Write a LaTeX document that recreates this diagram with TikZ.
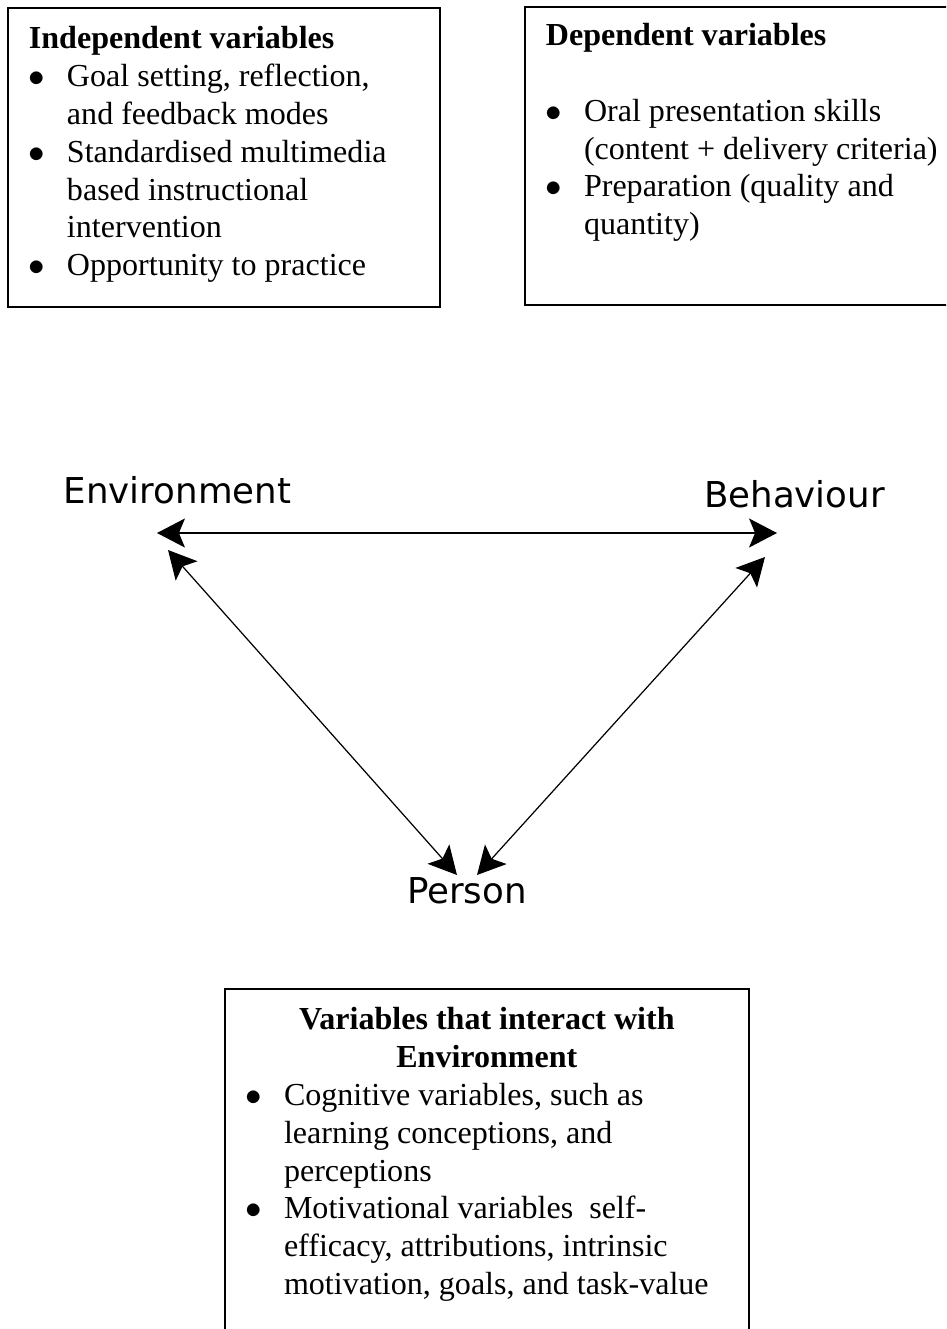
\documentclass[tikz,border=0pt]{standalone}
\usepackage{fontspec}
\setmainfont{Liberation Serif}
\newfontfamily\labelfont{DejaVu Sans}
\usetikzlibrary{arrows.meta,positioning}

\newlength{\bulw}
\setlength{\bulw}{13.9pt}
\newcommand{\bul}{\makebox[\bulw][l]{$\bullet$}}
\newcommand{\cont}{\hspace*{\bulw}}

\begin{document}
\begin{tikzpicture}[
  x=0.365pt, y=-0.365pt,
  varbox/.style={draw, line width=0.6pt, anchor=north west, inner xsep=7.7pt,
    inner ysep=0pt, font=\fontsize{11.7}{13.8}\selectfont},
  lbl/.style={anchor=base, inner sep=0pt, font=\labelfont\fontsize{13}{15}\selectfont},
  bigtip/.tip={Stealth[length=10.2pt, width=10.6pt, inset=2.2pt]},
  dblarrow/.style={bigtip-bigtip, line width=0.45pt}
]
\useasboundingbox (0,0) rectangle (946,1329);
\clip (0,0) rectangle (946,1329);

\node[varbox] (indep) at (7,7) {\begin{minipage}[t][109.1pt][t]{142.3pt}
\rule{0pt}{15pt}\textbf{Independent variables}\\
\bul Goal setting, reflection,\\
\cont and feedback modes\\
\bul Standardised multimedia\\
\cont based instructional\\
\cont intervention\\
\bul Opportunity to practice
\end{minipage}};

\node[varbox] (dep) at (524,6) {\begin{minipage}[t][108.8pt][t]{148.9pt}
\rule{0pt}{14.2pt}\textbf{Dependent variables}\\[\baselineskip]
\bul Oral presentation skills\\
\cont (content + delivery criteria)\\
\bul Preparation (quality and\\
\cont quantity)
\end{minipage}};

\node[lbl] (env) at (177.5,503) {Environment};
\node[lbl] (beh) at (794.5,507) {Behaviour};
\node[lbl] (per) at (467,903) {Person};

\coordinate (envh) at (157,533);
\coordinate (behh) at (777,533);
\coordinate (envd) at (168,550);
\coordinate (pera) at (457,875);
\coordinate (behd) at (765,557);
\coordinate (perb) at (477,875);

\draw[dblarrow] (envh) -- (behh);
\draw[dblarrow] (envd) -- (pera);
\draw[dblarrow] (behd) -- (perb);

\node[varbox] (inter) at (224,988) {\begin{minipage}[t][146pt][t]{175.9pt}
\makebox[\linewidth]{\rule{0pt}{15pt}\textbf{Variables that interact with}}\\
\makebox[\linewidth]{\textbf{Environment}}\\
\bul Cognitive variables, such as\\
\cont learning conceptions, and\\
\cont perceptions\\
\bul Motivational variables\ \ self-\\
\cont efficacy, attributions, intrinsic\\
\cont motivation, goals, and task-value
\end{minipage}};
\end{tikzpicture}
\end{document}
